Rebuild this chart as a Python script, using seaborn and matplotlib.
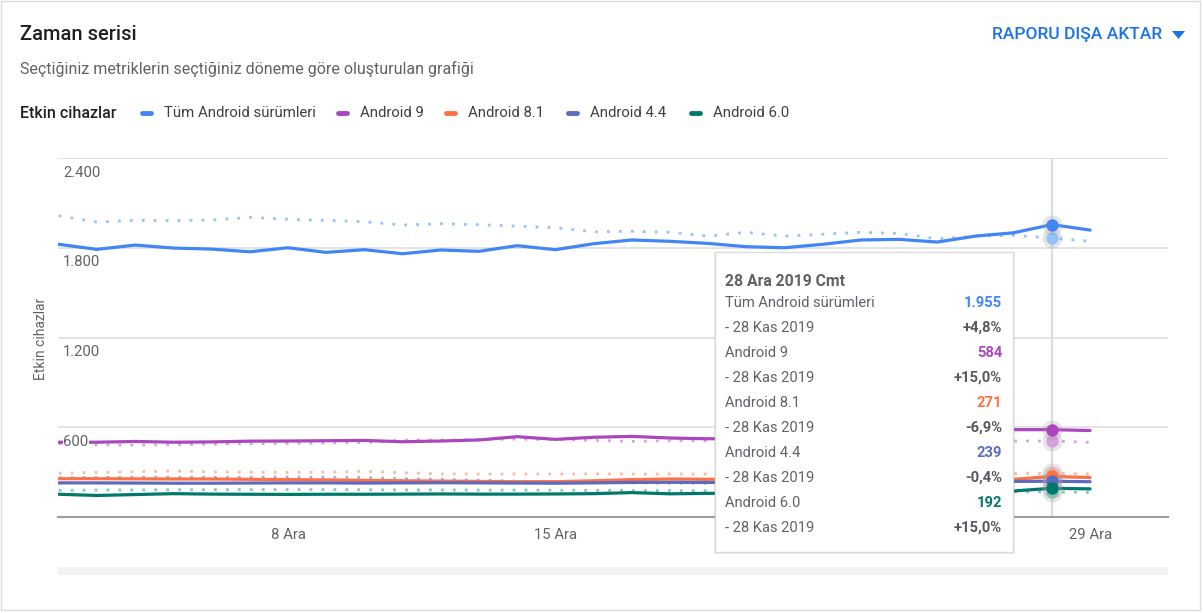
import numpy as np
import pandas as pd
import seaborn as sns
import matplotlib.pyplot as plt
from matplotlib.patches import Rectangle, Polygon
from matplotlib.lines import Line2D
from matplotlib import transforms

# -------------- DONNEES -------------------#

dates = pd.date_range("2019-12-02", "2019-12-29", freq="D")
hover_date = pd.Timestamp("2019-12-28")

series_names = ["Tüm Android sürümleri", "Android 9", "Android 8.1", "Android 4.4", "Android 6.0"]
series_colors = ["#4285f4", "#ab47bc", "#ff7043", "#5c6bc0", "#00796b"]
prev_colors = ["#93c3fa", "#d9a0e2", "#ffb8a1", "#a6aee0", "#80c9be"]

tum_android = [1823, 1789, 1818, 1798, 1791, 1773, 1800, 1769, 1787, 1760, 1785, 1776, 1814, 1787,
               1827, 1852, 1843, 1829, 1807, 1800, 1823, 1852, 1856, 1838, 1878, 1900, 1955, 1918]
tum_android_prev = [2014, 1972, 1983, 1981, 1985, 2003, 1990, 1983, 1974, 1952, 1961, 1954, 1945, 1934,
                    1907, 1910, 1903, 1878, 1903, 1878, 1890, 1903, 1896, 1860, 1878, 1883, 1865, 1843]

android_9 = [500, 500, 505, 500, 502, 507, 508, 510, 512, 503, 508, 515, 537, 519,
             533, 539, 528, 523, 526, 532, 540, 548, 556, 570, 578, 584, 584, 578]
android_9_prev = [490, 482, 480, 483, 487, 490, 492, 495, 497, 515, 515, 518, 521, 518,
                  512, 506, 510, 510, 510, 509, 509, 509, 508, 508, 508, 508, 508, 499]

android_81 = [256, 256, 255, 254, 254, 252, 250, 248, 245, 242, 240, 238, 236, 236,
              242, 250, 254, 252, 254, 256, 258, 260, 262, 263, 264, 252, 271, 264]
android_81_prev = [292, 298, 302, 308, 302, 300, 298, 300, 306, 296, 288, 287, 288, 287,
                   288, 287, 288, 287, 288, 289, 289, 290, 290, 290, 290, 290, 291, 289]

android_44 = [228, 228, 227, 226, 226, 227, 228, 228, 227, 228, 229, 228, 227, 226,
              228, 231, 232, 231, 232, 233, 234, 235, 236, 237, 238, 238, 239, 236]
android_44_prev = [262, 264, 266, 266, 265, 266, 268, 266, 264, 256, 252, 246, 240, 236,
                   232, 228, 226, 225, 226, 228, 230, 232, 234, 236, 238, 239, 240, 237]

android_60 = [152, 144, 150, 156, 153, 152, 151, 152, 152, 153, 154, 153, 153, 154,
              156, 163, 155, 158, 160, 162, 164, 166, 168, 170, 172, 174, 192, 188]
android_60_prev = [178, 180, 181, 182, 182, 183, 183, 183, 182, 181, 181, 180, 180, 179,
                   178, 178, 176, 176, 175, 174, 173, 172, 171, 170, 169, 168, 167, 164]

current = [tum_android, android_9, android_81, android_44, android_60]
previous = [tum_android_prev, android_9_prev, android_81_prev, android_44_prev, android_60_prev]

y_ticks = [0, 600, 1200, 1800, 2400]
# 22 Ara est caché sous l'infobulle
x_ticks = ["2019-12-08", "2019-12-15", "2019-12-29"]

# -------------- FIGURE -------------------#

sns.set_theme(style="white")
plt.rcParams["font.family"] = ["Roboto", "DejaVu Sans"]

W, H = 1203, 613
fig = plt.figure(figsize=(W / 100, H / 100), dpi=100)


def fx(px):
    return px / W


def fy(py):
    return 1 - py / H


# carte
fig.patches.append(Rectangle((fx(1), fy(610)), fx(1199), 609 / H, transform=fig.transFigure,
                             fc="white", ec="#dadce0", lw=1, zorder=-5))

ax = fig.add_axes([fx(58), fy(517), fx(1168 - 58), (517 - 158) / H])

for vals, col in zip(previous, prev_colors):
    sns.lineplot(x=dates, y=vals, ax=ax, color=col, lw=2.0, linestyle=(0, (1, 3.3)), legend=False)
for vals, col in zip(current, series_colors):
    sns.lineplot(x=dates, y=vals, ax=ax, color=col, lw=2.3, legend=False)

ax.set_ylim(0, 2400)
ax.set_xlim(pd.Timestamp("2019-12-01") + pd.Timedelta(days=0.98),
            pd.Timestamp("2019-12-01") + pd.Timedelta(days=30.04))
ax.set_yticks(y_ticks)
ax.yaxis.grid(True, color="#e0e0e0", lw=1.3)
ax.xaxis.grid(False)
ax.tick_params(axis="y", length=0, labelleft=False)
ax.set_xticks([pd.Timestamp(d) for d in x_ticks])
ax.set_xticklabels([f"{pd.Timestamp(d).day} Ara" for d in x_ticks], fontsize=10.7, color="#5f6368")
ax.tick_params(axis="x", length=0, pad=8)
ax.set_xlabel("")
ax.set_ylabel("")
for s in ["top", "left", "right"]:
    ax.spines[s].set_visible(False)
ax.spines["bottom"].set_color("#9e9e9e")
ax.spines["bottom"].set_linewidth(1.5)

# etiquettes y dans la zone
trans = transforms.blended_transform_factory(ax.transAxes, ax.transData)
for v in y_ticks[1:]:
    ax.annotate(f"{v:,}".replace(",", "."), xy=(0, v), xycoords=trans, xytext=(3.6, -5.5),
                textcoords="offset points", ha="left", va="top", fontsize=10.7, color="#5f6368",
                bbox=dict(fc="white", ec="none", pad=0.3), zorder=4)

# ligne de survol et points
ax.axvline(hover_date, color="#dadce0", lw=1.6, zorder=1)
idx = list(dates).index(hover_date)
for vals, col in zip(previous, prev_colors):
    ax.scatter([hover_date], [vals[idx]], s=210, color="#9e9e9e", alpha=0.25, lw=0, zorder=5)
    ax.scatter([hover_date], [vals[idx]], s=80, color=col, lw=0, zorder=6)
for vals, col in zip(current, series_colors):
    ax.scatter([hover_date], [vals[idx]], s=210, color="#9e9e9e", alpha=0.25, lw=0, zorder=7)
    ax.scatter([hover_date], [vals[idx]], s=80, color=col, lw=0, zorder=8)

# -------------- TEXTES -------------------#

fig.text(fx(20), fy(34), "Zaman serisi", fontsize=14.5, fontweight="medium", color="#202124", va="center")
fig.text(fx(20), fy(69), "Seçtiğiniz metriklerin seçtiğiniz döneme göre oluşturulan grafiği",
         fontsize=11.5, color="#5f6368", va="center")
fig.text(fx(1162), fy(35), "RAPORU DIŞA AKTAR", fontsize=12.5, fontweight="medium",
         color="#1a73e8", ha="right", va="center")
fig.patches.append(Polygon([(fx(1172), fy(31)), (fx(1185), fy(31)), (fx(1178.5), fy(39))],
                           closed=True, transform=fig.transFigure, fc="#1a73e8", ec="none"))

fig.text(fx(20), fy(113), "Etkin cihazlar", fontsize=11.5, fontweight="medium", color="#202124", va="center")
pill_x = [140, 336, 444, 566, 689]
for px, name, col in zip(pill_x, series_names, series_colors):
    fig.lines.append(Line2D([fx(px + 2), fx(px + 11)], [fy(113), fy(113)], transform=fig.transFigure,
                            color=col, lw=3.5, solid_capstyle="round"))
    fig.text(fx(px + 24), fy(113), name, fontsize=10.7, color="#3c4043", va="center")

fig.text(fx(41), fy(339), "Etkin cihazlar", rotation=90, fontsize=10, color="#5f6368",
         ha="center", va="center")

# barre grise du bas
fig.patches.append(Rectangle((fx(58), fy(575)), fx(1110), 8 / H, transform=fig.transFigure,
                             fc="#f1f3f4", ec="none", zorder=1))

# -------------- INFOBULLE -------------------#

fig.patches.append(Rectangle((fx(714), fy(554)), fx(301), 302 / H, transform=fig.transFigure,
                             fc="#000000", alpha=0.08, ec="none", zorder=9))
fig.patches.append(Rectangle((fx(715), fy(552)), fx(298), 300 / H, transform=fig.transFigure,
                             fc="white", ec="#dadce0", lw=1, zorder=10))
fig.text(fx(725), fy(282), "28 Ara 2019 Cmt", fontsize=11.3, fontweight="bold", color="#5f6368",
         va="center", zorder=11)
for i, (name, col, cur, prev) in enumerate(zip(series_names, series_colors, current, previous)):
    y0 = 303 + 50 * i
    val = f"{cur[idx]:,}".replace(",", ".")
    pct = (cur[idx] / prev[idx] - 1) * 100
    pct_txt = f"{pct:+.1f}%".replace(".", ",")
    fig.text(fx(725), fy(y0), name, fontsize=10.6, color="#5f6368", va="center", zorder=11)
    fig.text(fx(1002), fy(y0), val, fontsize=10.6, fontweight="bold", color=col,
             ha="right", va="center", zorder=11)
    fig.text(fx(725), fy(y0 + 25), "- 28 Kas 2019", fontsize=10.6, color="#5f6368", va="center", zorder=11)
    fig.text(fx(1002), fy(y0 + 25), pct_txt, fontsize=10.6, fontweight="bold", color="#55595e",
             ha="right", va="center", zorder=11)

plt.savefig("out.png", dpi=100)
plt.close()
